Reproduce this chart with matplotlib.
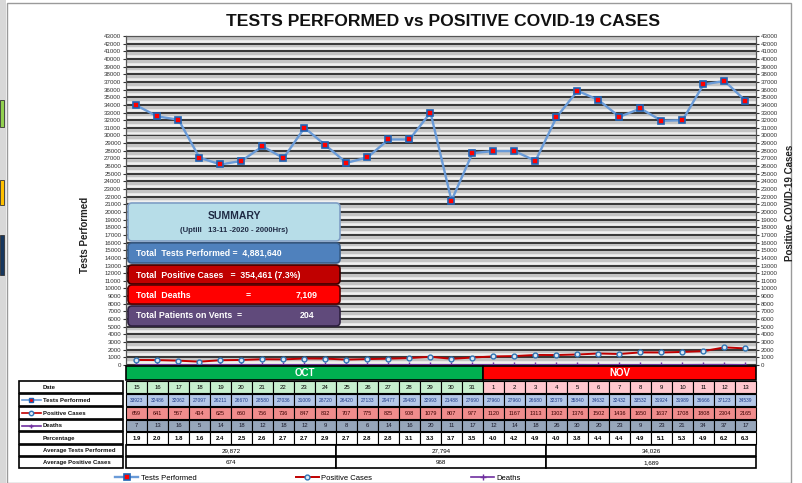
import numpy as np
import matplotlib.pyplot as plt
from matplotlib.patches import Rectangle, FancyBboxPatch
from matplotlib.lines import Line2D

plt.rcParams['font.family'] = ['Liberation Sans', 'DejaVu Sans']

# data
dates = [15, 16, 17, 18, 19, 20, 21, 22, 23, 24, 25, 26, 27, 28, 29, 30, 31,
         1, 2, 3, 4, 5, 6, 7, 8, 9, 10, 11, 12, 13]
months = ["OCT", "NOV"]
month_days = [17, 13]
tests = [33923, 32486, 32062, 27097, 26211, 26670, 28580, 27036, 31009, 28720,
         26420, 27133, 29477, 29480, 32993, 21488, 27690, 27960, 27960, 26680,
         32379, 35840, 34632, 32432, 33532, 31924, 31989, 36666, 37123, 34539]
positives = [659, 641, 567, 434, 625, 660, 756, 736, 847, 832,
             707, 775, 825, 908, 1079, 807, 977, 1120, 1167, 1313,
             1302, 1376, 1502, 1436, 1650, 1637, 1708, 1808, 2304, 2165]
deaths = [7, 13, 16, 5, 14, 18, 12, 18, 12, 9,
          8, 6, 14, 16, 20, 11, 17, 12, 14, 18,
          26, 30, 20, 23, 9, 23, 21, 34, 37, 17]
percentage = [1.9, 2.0, 1.8, 1.6, 2.4, 2.5, 2.6, 2.7, 2.7, 2.9,
              2.7, 2.8, 2.8, 3.1, 3.3, 3.7, 3.5, 4.0, 4.2, 4.9,
              4.0, 3.8, 4.4, 4.4, 4.9, 5.1, 5.3, 4.9, 6.2, 6.3]
avg_tests = ["29,872", "27,794", "34,026"]
avg_positive = ["674", "968", "1,689"]
total_tests = "4,881,640"
total_positive = "354,461 (7.3%)"
total_deaths = "7,109"
total_vents = "204"

W, H = 803, 483
fig = plt.figure(figsize=(W / 100, H / 100), dpi=100)
fig.patch.set_facecolor('white')


def fx(px):
    return px / W


def fy(py):
    return 1 - py / H


# main plot area
x0, x1 = 126, 756
y_top, y_bot = 36, 365
ax = fig.add_axes([fx(x0), fy(y_bot), fx(x1) - fx(x0), fy(y_top) - fy(y_bot)])
x = np.arange(len(dates))
ax.set_xlim(-0.5, len(dates) - 0.5)
ax.set_ylim(0, 43000)
ax.set_facecolor('#c4c4c4')
for k in range(44):
    ax.axhline(k * 1000, color='#111111', lw=1.1, zorder=1)
    ax.axhline(k * 1000 + 380, color='#f0f0f0', lw=1.8, zorder=1)

l_tests, = ax.plot(x, tests, color='#6a9bd8', lw=1.7, marker='s', ms=4.5,
                   mfc='#ff0000', mec='#1f63b5', mew=1.2, zorder=5,
                   label='Tests Performed')
ax.set_yticks(range(0, 43001, 1000))
ax.set_yticklabels([str(v) for v in range(0, 43001, 1000)])
ax.set_xticks([])
ax.tick_params(axis='y', length=2, pad=1.5, labelsize=4.4, colors='#333333')

ax2 = ax.twinx()
ax2.set_ylim(0, 43000)
l_pos, = ax2.plot(x, positives, color='#c00000', lw=1.4, marker='o', ms=3.5,
                  mfc='#dbe8f5', mec='#2e75b6', mew=1, zorder=5,
                  label='Positive Cases')
l_d, = ax2.plot(x, deaths, color='#7030a0', lw=1.2, marker='+', ms=4,
                mec='#7030a0', zorder=4, label='Deaths')
ax2.set_yticks(range(0, 43001, 1000))
ax2.set_yticklabels([str(v) for v in range(0, 43001, 1000)])
ax2.tick_params(axis='y', length=2, pad=1.5, labelsize=4.4, colors='#333333')
for a in (ax, ax2):
    for s in a.spines.values():
        s.set_color('#555555')
        s.set_linewidth(0.8)

fig.text(fx(443), fy(21), "TESTS PERFORMED vs POSITIVE COVID-19 CASES",
         ha='center', va='center', fontsize=12.6, fontweight='bold', color='#111111')
fig.text(fx(85), fy(235), "Tests Performed", rotation=90, ha='center',
         va='center', fontsize=7, fontweight='bold', color='#222222')
fig.text(fx(790), fy(203), "Positive COVID-19 Cases", rotation=90, ha='center',
         va='center', fontsize=7, fontweight='bold', color='#222222')

# overlay in pixel coords for table, summary and frame
lay = fig.add_axes([0, 0, 1, 1])
lay.set_xlim(0, W)
lay.set_ylim(H, 0)
lay.axis('off')
lay.patch.set_alpha(0)

lay.add_patch(Rectangle((0, 0), 6, H, facecolor='#d8d8d8', edgecolor='none'))
lay.add_patch(Rectangle((0, 100), 4, 27, facecolor='#92d050', edgecolor='#333333', lw=0.6))
lay.add_patch(Rectangle((0, 180), 4, 25, facecolor='#ffc000', edgecolor='#333333', lw=0.6))
lay.add_patch(Rectangle((0, 235), 4, 40, facecolor='#17375e', edgecolor='#333333', lw=0.6))
lay.add_patch(Rectangle((7, 3), 784, 480, facecolor='none', edgecolor='#9a9a9a', lw=1))

# summary box
def sbox(y, h, fc, ec):
    lay.add_patch(FancyBboxPatch((128, y), 212, h, boxstyle="round,pad=0,rounding_size=4",
                                 facecolor=fc, edgecolor=ec, lw=1.2, zorder=6))

sbox(203, 38, '#b7dde8', '#7f9fc6')
lay.text(234, 216, "SUMMARY", ha='center', va='center', fontsize=7.5,
         fontweight='bold', color='#1f2a44', zorder=7)
lay.text(234, 230, "(Uptill   13-11 -2020 - 2000Hrs)", ha='center', va='center',
         fontsize=5.5, fontweight='bold', color='#1f2a44', zorder=7)
sbox(243, 20, '#4f81bd', '#385d8a')
lay.text(136, 253, "Total  Tests Performed =  " + total_tests, va='center',
         fontsize=6.3, fontweight='bold', color='white', zorder=7)
sbox(265, 19, '#c00000', '#3a0000')
lay.text(136, 275, "Total  Positive Cases   =  " + total_positive, va='center',
         fontsize=6.3, fontweight='bold', color='white', zorder=7)
sbox(285, 19, '#ff0000', '#5a0000')
lay.text(136, 295, "Total  Deaths", va='center', fontsize=6.3,
         fontweight='bold', color='white', zorder=7)
lay.text(248, 295, "=", va='center', ha='center', fontsize=6.3,
         fontweight='bold', color='white', zorder=7)
lay.text(318, 295, total_deaths, va='center', ha='right', fontsize=6.3,
         fontweight='bold', color='white', zorder=7)
sbox(306, 20, '#604a7b', '#2e2040')
lay.text(136, 316, "Total Patients on Vents  =", va='center', fontsize=6.3,
         fontweight='bold', color='white', zorder=7)
lay.text(314, 316, total_vents, va='center', ha='right', fontsize=6.3,
         fontweight='bold', color='white', zorder=7)

# data table
n = len(dates)
cw = (x1 - x0) / n
lab_l, lab_r = 19, 123
rows = {
    'head': (366, 380), 'date': (381, 393), 'tests': (394, 406), 'pos': (407, 419),
    'deaths': (420, 431), 'pct': (432, 444), 'avgt': (445, 456), 'avgp': (457, 468),
}

def cell(xl, xr, row, fc, text='', color='black', fs=4.3, bold=False, lw=0.8):
    t, b = rows[row]
    lay.add_patch(Rectangle((xl, t), xr - xl, b - t, facecolor=fc,
                            edgecolor='black', lw=lw))
    if text:
        lay.text((xl + xr) / 2, (t + b) / 2 + 0.3, text, ha='center', va='center',
                 fontsize=fs, color=color, fontweight='bold' if bold else 'normal')

# month header
start = 0
for m, d, c in zip(months, month_days, ['#00b050', '#ff0000']):
    cell(x0 + start * cw, x0 + (start + d) * cw, 'head', c, m, color='white',
         fs=7, bold=True, lw=1.2)
    start += d

nov_start = month_days[0]
for i in range(n):
    xl, xr = x0 + i * cw, x0 + (i + 1) * cw
    cell(xl, xr, 'date', '#c6efce' if i < nov_start else '#ffc7ce', str(dates[i]), fs=4.3)
    cell(xl, xr, 'tests', '#b4c7e7', str(tests[i]), color='#1f3c88', fs=3.5)
    cell(xl, xr, 'pos', '#f08c8c', str(positives[i]), color='#3a0000', fs=4)
    cell(xl, xr, 'deaths', '#97a6ba', str(deaths[i]), color='#1a1a2a', fs=4.2)
    cell(xl, xr, 'pct', 'white', f"{percentage[i]:.1f}", fs=4.3, bold=True)

for g in range(3):
    xl, xr = x0 + g * 10 * cw, x0 + (g + 1) * 10 * cw
    cell(xl, xr, 'avgt', 'white', avg_tests[g], fs=4.5, lw=1.2)
    cell(xl, xr, 'avgp', 'white', avg_positive[g], fs=4.5, lw=1.2)

labels = [('date', 'Date'), ('tests', 'Tests Performed'), ('pos', 'Positive Cases'),
          ('deaths', 'Deaths'), ('pct', 'Percentage'),
          ('avgt', 'Average Tests Performed'), ('avgp', 'Average Positive Cases')]
for row, txt in labels:
    t, b = rows[row]
    lay.add_patch(Rectangle((lab_l, t), lab_r - lab_l, b - t, facecolor='white',
                            edgecolor='black', lw=1.2))
    lay.text(43, (t + b) / 2 + 0.3, txt, va='center', fontsize=4.3, fontweight='bold',
             color='#111111')

# legend keys inside the label column
for row, src in [('tests', l_tests), ('pos', l_pos), ('deaths', l_d)]:
    t, b = rows[row]
    yy = (t + b) / 2
    lay.add_line(Line2D([22, 41], [yy, yy], color=src.get_color(), lw=1.2))
    lay.add_line(Line2D([31.5], [yy], marker=src.get_marker(), ms=3.2,
                        mfc=src.get_markerfacecolor(), mec=src.get_markeredgecolor(),
                        mew=1, lw=0))

fig.legend(handles=[l_tests, l_pos, l_d], loc='center',
           bbox_to_anchor=(fx(318), fy(478)), ncol=3, frameon=False,
           fontsize=5.5, columnspacing=13, handlelength=3, handletextpad=0.3)

fig.savefig('out.png', dpi=100)
